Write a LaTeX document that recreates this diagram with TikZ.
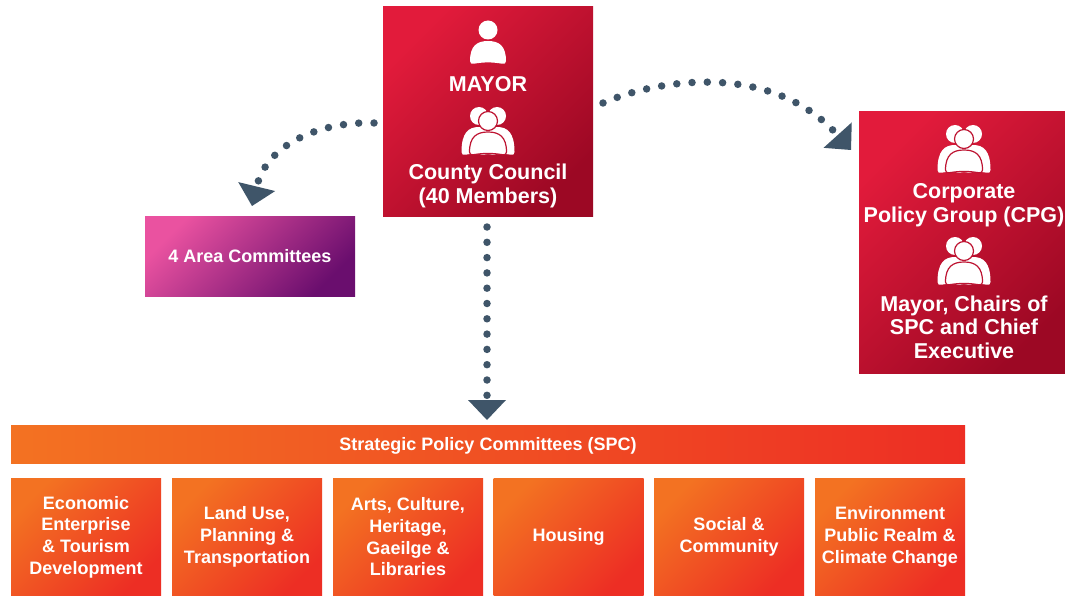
\documentclass[tikz,border=0pt]{standalone}
\usepackage{fontspec}
\setmainfont{Liberation Sans}
\usetikzlibrary{arrows.meta}
\definecolor{arrowc}{RGB}{63,85,105}
\definecolor{redA}{RGB}{226,27,59}
\definecolor{redB}{RGB}{156,8,36}
\definecolor{pinkA}{RGB}{234,82,160}
\definecolor{purpB}{RGB}{106,14,110}
\definecolor{orgA}{RGB}{243,114,34}
\definecolor{orgB}{RGB}{237,46,36}
\definecolor{iconline}{RGB}{190,20,50}
\newcommand{\pplbody}[4]{%
  \path[#4] ({#1-#2},-3) .. controls ({#1-#2},{-0.8*#3}) and ({#1-0.6*#2},{-#3}) .. ({#1},{-#3})
   .. controls ({#1+0.6*#2},{-#3}) and ({#1+#2},{-0.8*#3}) .. ({#1+#2},-3)
   .. controls ({#1+#2},-0.3) and ({#1+#2-1.5},0) .. ({#1+#2-4},-0.3)
   .. controls ({#1+4},-2) and ({#1-4},-2) .. ({#1-#2+4},-0.3)
   .. controls ({#1-#2+1.5},0) and ({#1-#2},-0.3) .. cycle;}
\tikzset{
  person/.pic={
    \fill[white] (0,-34) circle (9.5pt);
    \pplbody{0}{18}{23}{fill=white}
  },
  group/.pic={
    \pplbody{-9}{17.5}{28}{fill=white}
    \pplbody{9}{17.5}{28}{fill=white}
    \fill[white] (-9,-39) circle (9pt) (9,-39) circle (9pt);
    \pplbody{0}{18.5}{23}{fill=white,draw=iconline,line width=1.2pt}
    \filldraw[fill=white,draw=iconline,line width=1.2pt] (0,-34) circle (9.5pt);
  }
}
\begin{document}
\begin{tikzpicture}[x=1pt,y=-1pt,
  redbox/.style={rectangle, inner sep=0pt, top color=redA, bottom color=redB, shading angle=45},
  purpbox/.style={rectangle, inner sep=0pt, top color=pinkA, bottom color=purpB, shading angle=45,
     text=white, font=\fontsize{18pt}{21.7pt}\selectfont\bfseries, text height=13pt, text depth=0pt},
  spcbar/.style={rectangle, inner sep=0pt, left color=orgA, right color=orgB,
     text=white, font=\fontsize{18pt}{21.7pt}\selectfont\bfseries, text height=13pt, text depth=0pt},
  spcbox/.style={rectangle, inner sep=0pt, top color=orgA, bottom color=orgB, shading angle=45,
     minimum width=150pt, minimum height=118pt, align=center,
     text=white, font=\fontsize{18pt}{21.7pt}\selectfont\bfseries},
  bigtxt/.style={anchor=base, inner sep=0pt, text=white, font=\fontsize{21.5pt}{24pt}\selectfont\bfseries},
  dotarrow/.style={draw=arrowc, line width=7.5pt, line cap=round, dash pattern=on 0pt off 15.3pt,
     -{Triangle[width=38pt,length=20pt,line width=0pt]}}
]
\useasboundingbox (0,0) rectangle (1065,596);
\fill[white] (0,0) rectangle (1065,596);

% Mayor / County Council
\node[redbox, minimum width=210pt, minimum height=209pt] (mayorbox) at (488,111.5) {};
\pic at (488,64) {person};
\node[bigtxt] (tmayor) at (488,92) {MAYOR};
\pic at (488,155) {group};
\node[bigtxt] (tcc1) at (488,180) {County Council};
\node[bigtxt] (tcc2) at (488,204) {(40 Members)};

% CPG
\node[redbox, minimum width=210pt, minimum height=261pt] (cpgbox) at (964,242.5) {};
\pic at (964,173) {group};
\node[bigtxt] (tcpg1) at (964,199) {Corporate};
\node[bigtxt] (tcpg2) at (964,222.5) {Policy Group (CPG)};
\pic at (964,285) {group};
\node[bigtxt] (tcpg3) at (964,311) {Mayor, Chairs of};
\node[bigtxt] (tcpg4) at (964,334.5) {SPC and Chief};
\node[bigtxt] (tcpg5) at (964,358) {Executive};

% Area committees
\node[purpbox, minimum width=210pt, minimum height=80pt] (area) at (250,256) {4 Area Committees};

% SPC bar
\node[spcbar, minimum width=954pt, minimum height=38pt] (spc) at (488,444) {Strategic Policy Committees (SPC)};

% SPC boxes
\node[spcbox] (s1) at (86,537) {Economic\\Enterprise\\\& Tourism\\Development};
\node[spcbox] (s2) at (247,537) {Land Use,\\Planning \&\\Transportation};
\node[spcbox] (s3) at (408,537) {Arts, Culture,\\Heritage,\\Gaeilge \&\\Libraries};
\node[spcbox] (s4) at (568.5,537) {Housing};
\node[spcbox] (s5) at (729,537) {Social \&\\Community};
\node[spcbox] (s6) at (890,537) {Environment\\Public Realm \&\\Climate Change};

% connectors
\coordinate (lstart) at (374,123);
\coordinate (lend) at (252,206);
\coordinate (vstart) at (487,227);
\coordinate (vend) at (487,420);
\coordinate (rstart) at (603,103);
\coordinate (rend) at (851,150);
\draw[dotarrow] (lstart) .. controls (328,121) and (268,140) .. (lend);
\draw[dotarrow] (vstart) -- (vend);
\draw[dotarrow] (rstart) .. controls (655,80) and (770,60) .. (rend);
\end{tikzpicture}
\end{document}
